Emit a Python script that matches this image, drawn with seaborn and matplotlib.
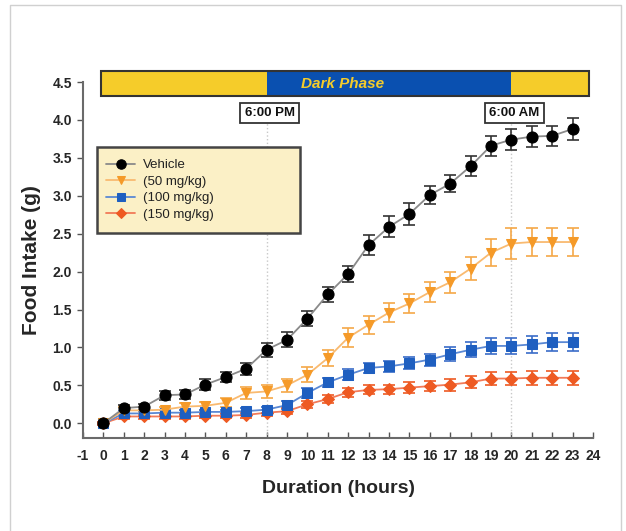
import numpy as np
import pandas as pd
import matplotlib
matplotlib.use("Agg")
import matplotlib.pyplot as plt
import seaborn as sns
from matplotlib.patches import Rectangle

hours = list(range(0, 24))
series_names = ["Vehicle", "(50 mg/kg)", "(100 mg/kg)", "(150 mg/kg)"]

vehicle = [0.0, 0.20, 0.22, 0.37, 0.38, 0.51, 0.61, 0.72, 0.97, 1.10, 1.38, 1.70, 1.97,
           2.35, 2.59, 2.76, 3.01, 3.16, 3.39, 3.66, 3.74, 3.78, 3.79, 3.88]
mg50 = [0.0, 0.17, 0.17, 0.18, 0.22, 0.23, 0.27, 0.40, 0.42, 0.50, 0.64, 0.86, 1.13,
        1.30, 1.46, 1.58, 1.73, 1.86, 2.04, 2.25, 2.37, 2.39, 2.39, 2.39]
mg100 = [0.0, 0.13, 0.13, 0.14, 0.14, 0.15, 0.15, 0.16, 0.18, 0.24, 0.40, 0.54, 0.64,
         0.73, 0.75, 0.79, 0.84, 0.91, 0.97, 1.02, 1.02, 1.04, 1.07, 1.07]
mg150 = [0.0, 0.09, 0.09, 0.09, 0.09, 0.10, 0.10, 0.11, 0.14, 0.16, 0.25, 0.32, 0.41,
         0.44, 0.45, 0.47, 0.49, 0.51, 0.54, 0.59, 0.59, 0.60, 0.60, 0.60]

vehicle_err = [0.02, 0.04, 0.04, 0.06, 0.06, 0.07, 0.07, 0.08, 0.09, 0.10, 0.10, 0.10, 0.11,
               0.13, 0.14, 0.15, 0.12, 0.11, 0.13, 0.13, 0.14, 0.14, 0.13, 0.15]
mg50_err = [0.02, 0.04, 0.04, 0.04, 0.05, 0.05, 0.06, 0.08, 0.09, 0.09, 0.10, 0.10, 0.12,
            0.12, 0.13, 0.13, 0.13, 0.14, 0.15, 0.18, 0.20, 0.19, 0.19, 0.19]
mg100_err = [0.02, 0.03, 0.03, 0.03, 0.03, 0.03, 0.03, 0.04, 0.04, 0.05, 0.06, 0.06, 0.07,
             0.07, 0.07, 0.08, 0.08, 0.09, 0.10, 0.10, 0.10, 0.11, 0.12, 0.12]
mg150_err = [0.02, 0.03, 0.03, 0.03, 0.03, 0.03, 0.03, 0.04, 0.04, 0.04, 0.05, 0.05, 0.06,
             0.06, 0.06, 0.07, 0.07, 0.08, 0.08, 0.09, 0.09, 0.09, 0.09, 0.09]

x_ticks = list(range(-1, 25))
y_ticks = [0.0, 0.5, 1.0, 1.5, 2.0, 2.5, 3.0, 3.5, 4.0, 4.5]
phase_bounds = [-0.12, 8, 20, 23.8]
phase_labels = ["6:00 PM", "6:00 AM"]

sns.set_style("white")
plt.rcParams['font.family'] = ['Liberation Sans', 'DejaVu Sans']

fig = plt.figure(figsize=(6.26, 5.31), dpi=100)
ax = fig.add_axes([83/626, 1-438/531, (593-83)/626, (438-82)/531])

values = [vehicle, mg50, mg100, mg150]
errs = [vehicle_err, mg50_err, mg100_err, mg150_err]
line_colors = ["#8a8a8a", "#F9BA70", "#5A88D4", "#F27A58"]
marker_colors = ["#000000", "#F59A28", "#1F5FC0", "#EE5A22"]
err_colors = ["#333333", "#F5A848", "#3A6CC8", "#EE5A22"]
markers = ["o", "v", "s", "D"]
msizes = [8, 7.2, 6.5, 6.5]

df = pd.DataFrame({
    "hour": hours * 4,
    "intake": sum(values, []),
    "group": sum([[n] * len(hours) for n in series_names], []),
})

for i in reversed(range(4)):
    sub = df[df["group"] == series_names[i]]
    ax.errorbar(sub["hour"], sub["intake"], yerr=errs[i], fmt="none",
                ecolor=err_colors[i], elinewidth=1.2, capsize=4, capthick=1.2, zorder=2 + i * 0.1)
for i in reversed(range(4)):
    sub = df[df["group"] == series_names[i]]
    sns.lineplot(data=sub, x="hour", y="intake", ax=ax, color=line_colors[i],
                 marker=markers[i], markersize=msizes[i], markerfacecolor=marker_colors[i],
                 markeredgecolor=marker_colors[i], linewidth=1.3, label=series_names[i],
                 zorder=3 + (3 - i) * 0.1, errorbar=None)

handles, labels = ax.get_legend_handles_labels()
if ax.get_legend() is not None:
    ax.get_legend().remove()

ax.set_xlim(-1, 24)
ax.set_ylim(-0.194, 4.5)
ax.set_xticks(x_ticks)
ax.set_xticklabels([str(t) for t in x_ticks], fontsize=10, fontweight="bold")
ax.set_yticks(y_ticks)
ax.set_yticklabels([f"{t:.1f}" for t in y_ticks], fontsize=10, fontweight="bold")
ax.tick_params(axis="x", direction="in", length=4, width=1, color="#555555", pad=8)
ax.tick_params(axis="y", direction="out", length=4, width=1, color="#555555", pad=4)
ax.tick_params(left=True, bottom=True)
for s in ["top", "right"]:
    ax.spines[s].set_visible(False)
for s in ["left", "bottom"]:
    ax.spines[s].set_color("#6a6a6a")
    ax.spines[s].set_linewidth(1.5)

ax.set_xlabel("Duration (hours)", fontsize=14, fontweight="bold", labelpad=12)
ax.set_ylabel("Food Intake (g)", fontsize=15, fontweight="bold", labelpad=8)

# dotted lines at phase changes
for xv in phase_bounds[1:3]:
    ax.plot([xv, xv], [-0.194, 4.05], color="#c8c8c8", linestyle=":", linewidth=1, zorder=1)

# Dark phase bar
bar_y0, bar_h = 4.32, 0.32
colors_bar = ["#F5CC2A", "#0A50B0", "#F5CC2A"]
for j in range(3):
    ax.add_patch(Rectangle((phase_bounds[j], bar_y0), phase_bounds[j + 1] - phase_bounds[j], bar_h,
                           facecolor=colors_bar[j], edgecolor="none", clip_on=False, zorder=5))
ax.add_patch(Rectangle((phase_bounds[0], bar_y0), phase_bounds[3] - phase_bounds[0], bar_h,
                       facecolor="none", edgecolor="#333333", linewidth=1.5, clip_on=False, zorder=6))
ax.text(11.7, bar_y0 + bar_h / 2, "Dark Phase",
        ha="center", va="center", fontsize=11, fontweight="bold", style="italic",
        color="#F5CC2A", zorder=7)

for xv, lab in zip(phase_bounds[1:3], phase_labels):
    ax.text(xv + 0.15, 4.09, lab, ha="center", va="center", fontsize=9.5, fontweight="bold",
            color="#111111", zorder=7,
            bbox=dict(boxstyle="square,pad=0.32", facecolor="white", edgecolor="#333333", linewidth=1.3))

# legend box drawn as a patch, legend entries placed inside
fig.add_artist(Rectangle((97/626, 1-233/531), 203/626, 86/531, transform=fig.transFigure,
                         facecolor="#FBF0C6", edgecolor="#444444", linewidth=1.8, zorder=8))
order = [labels.index(n) for n in series_names]
leg = fig.legend([handles[k] for k in order], [labels[k] for k in order],
                 loc="upper left", bbox_to_anchor=(106/626, 1-159/531),
                 frameon=False, fontsize=9.5, handlelength=2.2, borderpad=0, borderaxespad=0,
                 labelspacing=0.33, handletextpad=0.6, markerscale=0.85)
leg.set_zorder(9)
for t in leg.get_texts():
    t.set_color("#222222")

# light frame around the figure
fig.add_artist(plt.Line2D([10/626, 10/626, 621/626, 621/626], [0, 1-5/531, 1-5/531, 0],
                          transform=fig.transFigure, color="#d0d0d0", linewidth=1))

fig.savefig("out.png", dpi=100)
